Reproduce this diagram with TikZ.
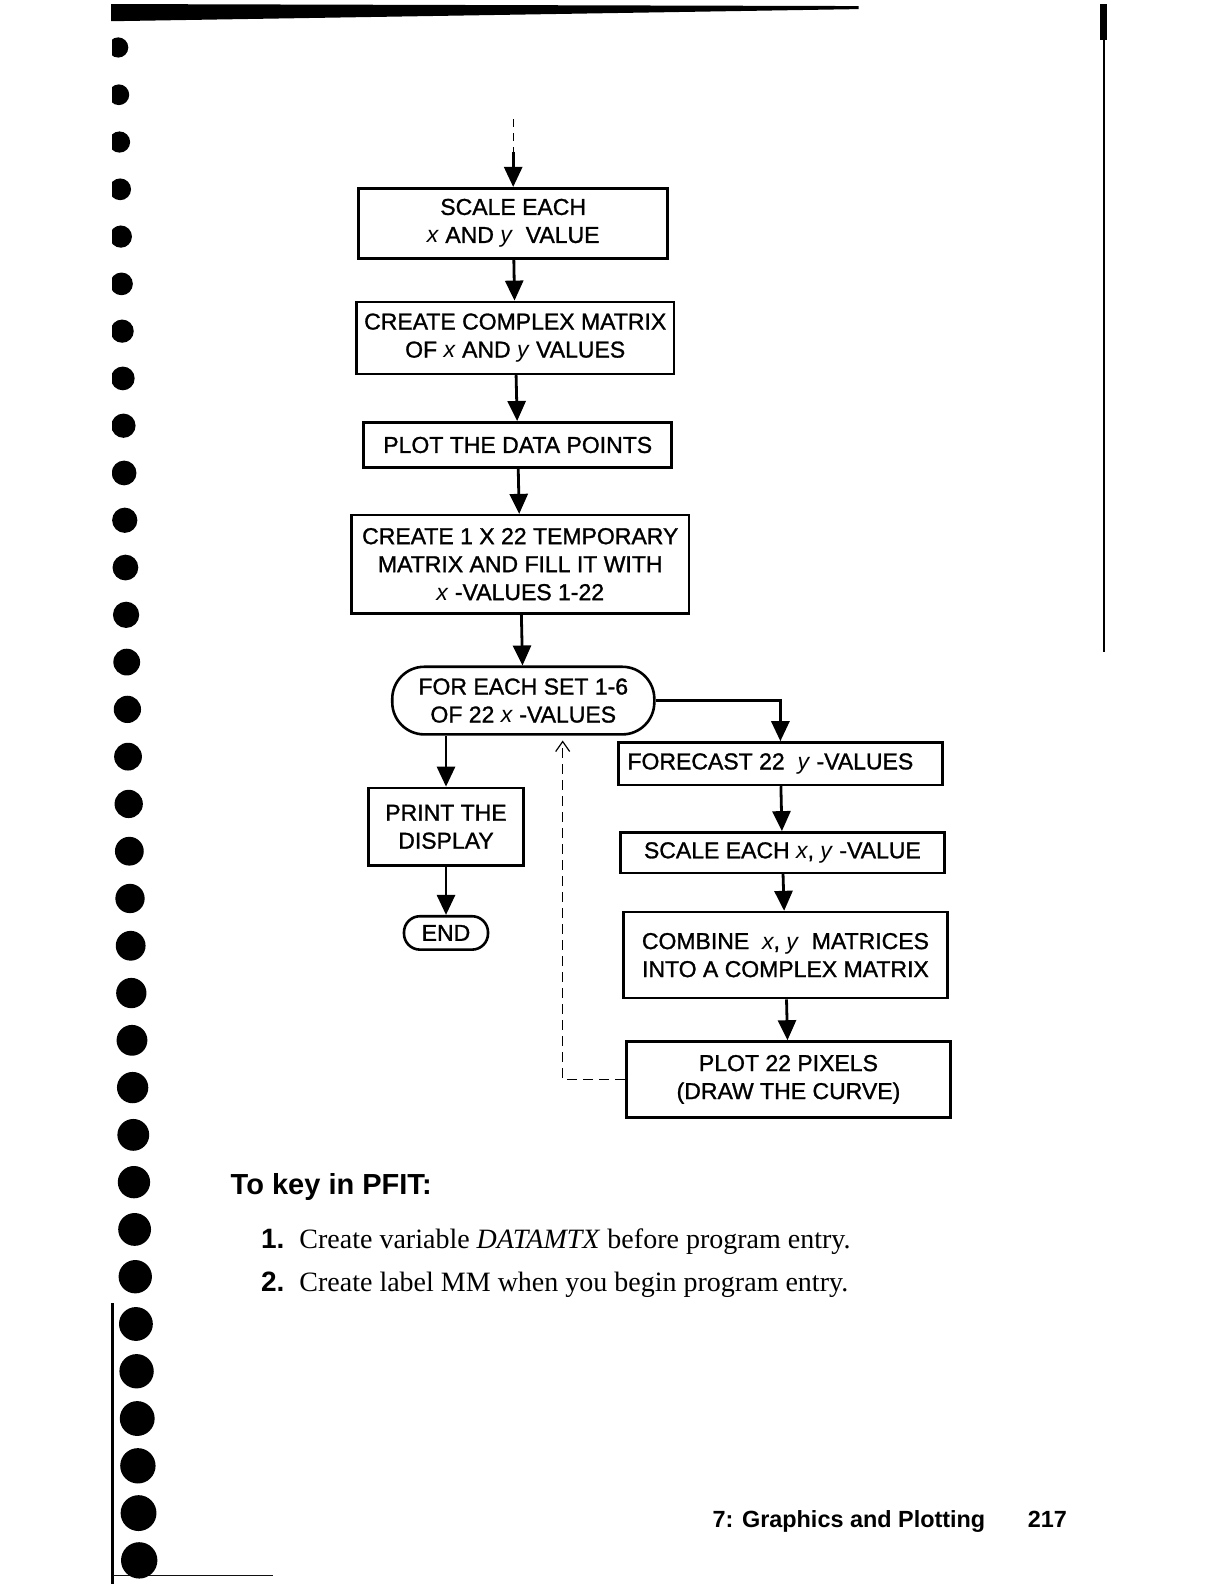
\documentclass[tikz,border=0pt]{standalone}
\usepackage{fontspec}
\setmainfont{Liberation Serif}
\setsansfont{Liberation Sans}
\newfontfamily\boxfont[AutoFakeBold=1.2]{Liberation Sans}
\usetikzlibrary{arrows.meta}

\begin{document}
\begin{tikzpicture}[x=0.505pt,y=-0.505pt,
  stepbox/.style={draw,line width=1.3pt,align=center,inner sep=1pt,
    font=\boxfont\bfseries\fontsize{11.5}{14}\selectfont},
  termbox/.style={stepbox,rounded corners=16pt},
  flow/.style={line width=1.4pt,-{Triangle[length=10pt,width=9pt]}},
  back/.style={line width=0.6pt,dash pattern=on 5pt off 3pt,-{Straight Barb[length=5pt,width=7pt]}},
  plain/.style={anchor=base west,inner sep=0pt}]
\useasboundingbox (0,0) rectangle (1212,1568);
\fill (110,4) -- (850,6) -- (850,9) -- (110,21) -- cycle;
\draw[line width=1pt] (1093,4) -- (1093,645);
\fill (1089,4) rectangle (1096,40);
\draw[line width=1.5pt] (111,1290) -- (111,1568);
\draw[blue!60!black,line width=0.5pt] (112,1560) -- (270,1560);
\begin{scope}
\clip (111,0) rectangle (220,1568);
\foreach \i in {0,...,32}
  \fill ({117+0.65*\i},{47+46.8*\i}) circle ({(10+0.25*\i)*0.505pt});
\end{scope}

\node[stepbox,minimum width=154.5pt,minimum height=35pt] (scale) at (508,221) {SCALE EACH\\\textit{x} AND \textit{y}\ \ VALUE};
\node[stepbox,minimum width=158.6pt,minimum height=36pt] (cmplx) at (510,334.5) {CREATE COMPLEX MATRIX\\OF \textit{x} AND \textit{y} VALUES};
\node[stepbox,minimum width=154pt,minimum height=22.7pt] (data) at (512.5,440.5) {PLOT THE DATA POINTS};
\node[stepbox,minimum width=168.7pt,minimum height=49pt] (temp) at (515,558.5) {CREATE 1 X 22 TEMPORARY\\MATRIX AND FILL IT WITH\\\textit{x} -VALUES 1-22};
\node[termbox,minimum width=131pt,minimum height=33.8pt] (loop) at (518,693.5) {FOR EACH SET 1-6\\OF 22\ \textit{x} -VALUES};
\node[stepbox,minimum width=77.3pt,minimum height=38.9pt] (print) at (441.5,818.5) {PRINT THE\\DISPLAY};
\node[termbox,rounded corners=8pt,minimum width=42pt,minimum height=16.7pt] (end) at (441.5,923.5) {END};
\node[stepbox,minimum width=162pt,minimum height=21.2pt] (fcast) at (772.5,756) {FORECAST 22\ \ \textit{y} -VALUES\hspace{10pt}};
\node[stepbox,minimum width=162pt,minimum height=20.2pt] (scxy) at (774.5,844) {SCALE EACH \textit{x}, \textit{y} -VALUE};
\node[stepbox,minimum width=162pt,minimum height=43pt] (comb) at (777.5,945.5) {COMBINE\ \ \textit{x}, \textit{y}\ \ MATRICES\\INTO A COMPLEX MATRIX};
\node[stepbox,minimum width=162pt,minimum height=37.9pt] (pix) at (780.5,1068.5) {PLOT 22 PIXELS\\(DRAW THE CURVE)};

\coordinate (top) at (508,118);
\coordinate (entry) at (508,150);
\coordinate (ret) at (557,733);
\draw[line width=0.6pt,dash pattern=on 4pt off 3pt] (top) -- (entry);
\draw[flow] (entry) -- (scale);
\draw[flow] (scale) -- (cmplx);
\draw[flow] (cmplx) -- (data);
\draw[flow] (data) -- (temp);
\draw[flow] (temp) -- (loop);
\draw[flow] (loop.south -| print.north) -- (print);
\draw[flow] (print) -- (end);
\draw[flow] (loop.east) -| (fcast);
\draw[flow] (fcast) -- (scxy);
\draw[flow] (scxy) -- (comb);
\draw[flow] (comb) -- (pix);
\draw[back] (pix.west) -| (ret);

\node[plain,font=\sffamily\bfseries\fontsize{14.5}{17}\selectfont] (key) at (228,1182) {To key in PFIT:};
\node[plain,font=\sffamily\bfseries\fontsize{14}{17}\selectfont] (n1) at (258,1236) {1.};
\node[plain,font=\fontsize{14}{17}\selectfont] (t1) at (296,1236) {Create variable \textit{DATAMTX} before program entry.};
\node[plain,font=\sffamily\bfseries\fontsize{14}{17}\selectfont] (n2) at (258,1278) {2.};
\node[plain,font=\fontsize{14}{17}\selectfont] (t2) at (296,1278) {Create label MM when you begin program entry.};
\node[plain,font=\sffamily\bfseries\fontsize{11.7}{14}\selectfont] (chap) at (705,1512) {7: Graphics and Plotting};
\node[plain,font=\sffamily\bfseries\fontsize{11.7}{14}\selectfont] (page) at (1017,1512) {217};
\end{tikzpicture}
\end{document}
